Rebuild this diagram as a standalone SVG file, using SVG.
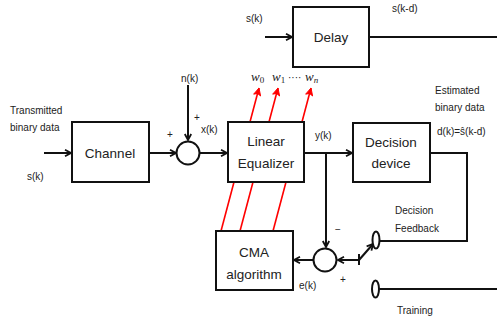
<svg xmlns="http://www.w3.org/2000/svg" width="497" height="320" viewBox="0 0 497 320">
<style>
text{font-family:"Liberation Sans",Arial,sans-serif;fill:#222}
.s{font-size:10px}
.b{font-size:13.5px;text-anchor:middle}
.w{font-family:"Liberation Serif","Times New Roman",serif;font-style:italic;font-size:13px}
.box{fill:#fff;stroke:#111;stroke-width:2}
.ln{fill:none;stroke:#111;stroke-width:2}
.red{fill:none;stroke:#f00;stroke-width:1.6}
</style>
<defs>
<marker id="ah" viewBox="0 0 8 8" refX="7" refY="4" markerWidth="8" markerHeight="8" markerUnits="userSpaceOnUse" orient="auto">
<path d="M1,0.8 L7,4 L1,7.2" fill="none" stroke="#111" stroke-width="1.8"/>
</marker>
<marker id="rh" viewBox="0 0 8 8" refX="7" refY="4" markerWidth="9" markerHeight="9" markerUnits="userSpaceOnUse" orient="auto">
<path d="M0.5,0.8 L7,4 L0.5,7.2 L2,4 Z" fill="#f00" stroke="#f00" stroke-width="0.8"/>
</marker>
</defs>

<g id="connectors">
<line class="ln" x1="44" y1="153" x2="71" y2="153" marker-end="url(#ah)"/>
<line class="ln" x1="149" y1="153" x2="176" y2="153" marker-end="url(#ah)"/>
<line class="ln" x1="188" y1="85" x2="188" y2="140" marker-end="url(#ah)"/>
<line class="ln" x1="200" y1="153" x2="227" y2="153" marker-end="url(#ah)"/>
<line class="ln" x1="304" y1="153" x2="352" y2="153" marker-end="url(#ah)"/>
<line class="ln" x1="326" y1="153" x2="326" y2="247" marker-end="url(#ah)"/>
<line class="ln" x1="265" y1="37" x2="292" y2="37" marker-end="url(#ah)"/>
<line class="ln" x1="369" y1="37" x2="497" y2="37"/>
<polyline class="ln" points="430,153 467,153 467,241 379.5,241"/>
<line class="ln" x1="313" y1="260" x2="294" y2="260" marker-end="url(#ah)"/>
<line class="ln" x1="359" y1="260" x2="338" y2="260" marker-end="url(#ah)"/>
<line class="ln" x1="359" y1="254" x2="359" y2="265"/>
<line class="ln" x1="359" y1="260" x2="373" y2="244" marker-end="url(#ah)"/>
<line class="ln" x1="379" y1="289" x2="497" y2="289"/>
<line class="red" x1="221" y1="231" x2="259" y2="88" marker-end="url(#rh)"/>
<line class="red" x1="240" y1="231" x2="278" y2="88" marker-end="url(#rh)"/>
<line class="red" x1="273" y1="231" x2="311" y2="88" marker-end="url(#rh)"/>
</g>

<g id="delay"><rect class="box" x="293" y="7" width="76" height="60"/><text class="b" x="331" y="42">Delay</text></g>
<g id="channel"><rect class="box" x="72" y="122" width="77" height="60"/><text class="b" x="110" y="158">Channel</text></g>
<g id="sum1"><circle class="box" cx="188" cy="153" r="11.5"/></g>
<g id="equalizer"><rect class="box" x="228" y="122" width="76" height="60"/><text class="b" x="266" y="146">Linear</text><text class="b" x="266" y="168">Equalizer</text></g>
<g id="decision"><rect class="box" x="353" y="123" width="77" height="59"/><text class="b" x="391" y="147">Decision</text><text class="b" x="391" y="168">device</text></g>
<g id="cma"><rect class="box" x="216" y="231" width="77" height="59"/><text class="b" x="254" y="257">CMA</text><text class="b" x="254" y="279">algorithm</text></g>
<g id="sum2"><circle class="box" cx="325" cy="260" r="11.5"/></g>
<g id="switch-feedback"><ellipse class="box" cx="376" cy="240" rx="3.5" ry="8.5"/></g>
<g id="switch-training"><ellipse class="box" cx="375.5" cy="289" rx="3.5" ry="8.5"/></g>

<g id="labels">
<text class="s" x="246" y="22">s(k)</text>
<text class="s" x="392" y="12">s(k-d)</text>
<text class="s" x="181" y="82">n(k)</text>
<text class="s" x="10" y="114">Transmitted</text>
<text class="s" x="10" y="131">binary data</text>
<text class="s" x="27" y="180">s(k)</text>
<text class="s" x="194" y="121">+</text>
<text class="s" x="201" y="133">x(k)</text>
<text class="s" x="167" y="138">+</text>
<text class="s" x="315" y="139">y(k)</text>
<text class="s" x="435" y="94">Estimated</text>
<text class="s" x="435" y="111">binary data</text>
<text class="s" x="437" y="135">d(k)=ŝ(k-d)</text>
<text class="w" x="251" y="81">w<tspan font-size="9" dy="2" font-style="normal">0</tspan></text>
<text class="w" x="272" y="81">w<tspan font-size="9" dy="2" font-style="normal">1</tspan></text>
<text class="s" x="288" y="81">····</text>
<text class="w" x="305" y="81">w<tspan font-size="9" dy="2">n</tspan></text>
<text class="s" x="395" y="214">Decision</text>
<text class="s" x="395" y="232">Feedback</text>
<text class="s" x="335" y="233">−</text>
<text class="s" x="340" y="283">+</text>
<text class="s" x="299" y="289">e(k)</text>
<text class="s" x="397" y="314">Training</text>
</g>
</svg>
